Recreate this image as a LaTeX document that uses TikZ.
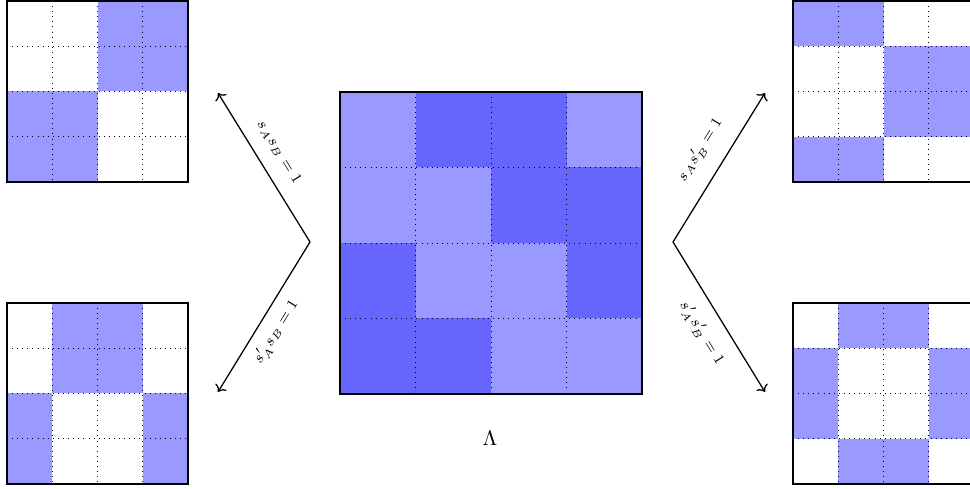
\documentclass[tikz,border=0pt]{standalone}
\usetikzlibrary{arrows.meta}
\definecolor{lightc}{RGB}{153,153,255}
\definecolor{darkc}{RGB}{102,102,255}
\newcommand\qgrid[4]{%
  \foreach \c [count=\i from 0] in {#4} {
    \pgfmathtruncatemacro\rr{\i/4}
    \pgfmathtruncatemacro\cc{\i-4*\rr}
    \fill[\c] ({#1+\cc*#3},{#2+\rr*#3}) rectangle ++(#3,#3);
  }
  \foreach \k in {1,2,3} {
    \draw[gridline] ({#1+\k*#3},#2) -- ++(0,4*#3);
    \draw[gridline] (#1,{#2+\k*#3}) -- ++(4*#3,0);
  }
  \draw[gridborder] (#1,#2) rectangle ++(4*#3,4*#3);
}
\tikzset{
  gridline/.style={dotted, black, line width=0.4pt},
  gridborder/.style={black, line width=0.5pt},
  arrowline/.style={->, black, line width=0.6pt},
  lab/.style={font=\scriptsize, inner sep=1pt}
}
\begin{document}
\begin{tikzpicture}[x=0.016556cm, y=-0.016556cm]
\clip (0,0) rectangle (970,489);
\useasboundingbox (0,0) rectangle (970,489);
% small grids
\qgrid{7}{1}{45.25}{white,white,lightc,lightc, white,white,lightc,lightc, lightc,lightc,white,white, lightc,lightc,white,white}
\qgrid{7}{303}{45.25}{white,lightc,lightc,white, white,lightc,lightc,white, lightc,white,white,lightc, lightc,white,white,lightc}
\qgrid{793}{1}{45.25}{lightc,lightc,white,white, white,white,lightc,lightc, white,white,lightc,lightc, lightc,lightc,white,white}
\qgrid{793}{303}{45.25}{white,lightc,lightc,white, lightc,white,white,lightc, lightc,white,white,lightc, white,lightc,lightc,white}
% central grid
\qgrid{340}{92}{75.5}{lightc,darkc,darkc,lightc, lightc,lightc,darkc,darkc, darkc,lightc,lightc,darkc, darkc,darkc,lightc,lightc}
\node (lam) at (490,438) {$\Lambda$};
% arrows
\coordinate (apL) at (310,242);
\coordinate (tUL) at (218,93);
\coordinate (tLL) at (218,392);
\coordinate (apR) at (673,242);
\coordinate (tUR) at (765,93);
\coordinate (tLR) at (765,392);
\draw[arrowline] (apL) -- (tUL);
\draw[arrowline] (apL) -- (tLL);
\draw[arrowline] (apR) -- (tUR);
\draw[arrowline] (apR) -- (tLR);
\node[lab, rotate=-58.3] (lUL) at (279,152) {$s_As_B=1$};
\node[lab, rotate=58.3] (lLL) at (276,332) {$s'_As_B=1$};
\node[lab, rotate=58.3] (lUR) at (700,150) {$s_As'_B=1$};
\node[lab, rotate=-58.3] (lLR) at (702,333) {$s'_As'_B=1$};
\end{tikzpicture}
\end{document}
